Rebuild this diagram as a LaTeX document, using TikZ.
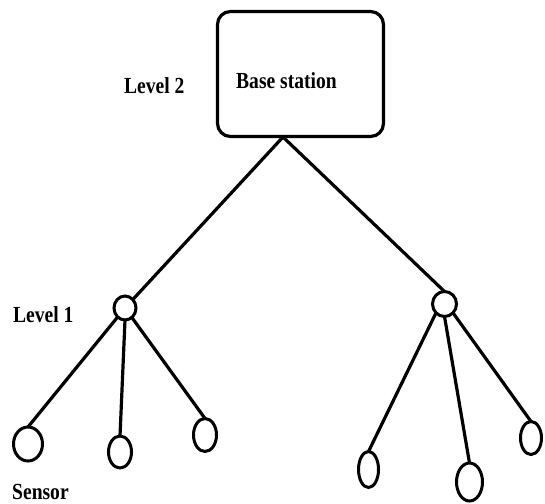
\documentclass[tikz,border=0pt]{standalone}
\usepackage{fontspec}
\usepackage{graphicx}
\setmainfont{Liberation Serif}
\usetikzlibrary{shapes.geometric,calc}
\tikzset{
  wire/.style={line width=3.2pt},
  oval/.style={draw, ellipse, line width=3pt, inner sep=0pt, outer sep=0pt},
  lbl/.style={anchor=base west, inner sep=0pt, font=\bfseries\fontsize{23}{23}\selectfont},
  boxnode/.style={draw, line width=3.2pt, rounded corners=13pt, minimum width=166pt, minimum height=125pt, inner sep=0pt}
}
\newcommand{\sq}[1]{\scalebox{0.85}[1]{#1}}
\begin{document}
\begin{tikzpicture}[x=1pt,y=-1pt]
\useasboundingbox (0,0) rectangle (545,503);
\node[boxnode] (bs) at (300.5,74) {};
\node[lbl] (bst) at (236,88) {\sq{Base station}};
\node[lbl] (lv2) at (124,93) {\sq{Level 2}};
\node[lbl] (lv1) at (13,322) {\sq{Level 1}};
\node[lbl] (sen) at (12,499) {\sq{Sensor}};
\coordinate (apex) at (283,137);
\node[oval, minimum width=22pt, minimum height=24pt] (l1) at (125,308) {};
\node[oval, minimum width=24pt, minimum height=25pt] (r1) at (444.5,304) {};
\node[oval, minimum width=29pt, minimum height=34pt] (s1) at (28,444) {};
\node[oval, minimum width=23pt, minimum height=32pt] (s2) at (120,452) {};
\node[oval, minimum width=23pt, minimum height=33pt] (s3) at (205,435) {};
\node[oval, minimum width=20pt, minimum height=36pt] (t1) at (368.5,469.5) {};
\node[oval, minimum width=26pt, minimum height=38pt] (t2) at (469.5,482) {};
\node[oval, minimum width=21pt, minimum height=33pt] (t3) at (531,438) {};
\draw[wire] (apex) -- (l1);
\draw[wire] (apex) -- (r1.north);
\draw[wire] (l1) -- (s1.north);
\draw[wire] (l1.south) -- (s2.north);
\draw[wire] (l1) -- (s3.north);
\draw[wire] (r1.south west) -- (t1.north);
\draw[wire] (r1.south) -- (t2.north);
\draw[wire] (r1.south east) -- (t3.north);
\end{tikzpicture}
\end{document}
